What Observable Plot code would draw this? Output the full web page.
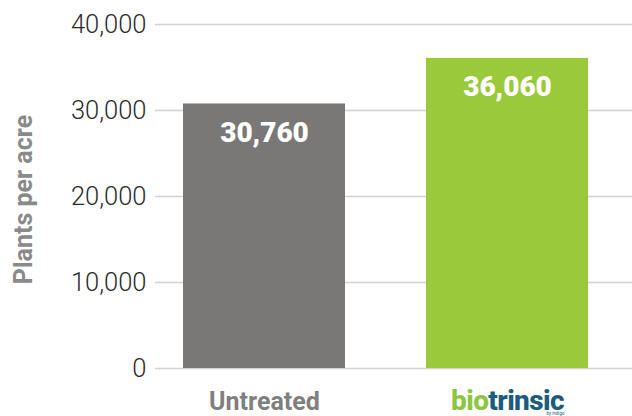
<!DOCTYPE html>
<html><head><meta charset="utf-8">
<script src="https://cdn.jsdelivr.net/npm/d3@7"></script>
<script src="https://cdn.jsdelivr.net/npm/@observablehq/plot@0.6"></script>
<style>body{margin:0;background:#fff}</style>
</head><body><div id="chart"></div>
<script>
const categories = ["Untreated", "biotrinsic"];
const values = [30760, 36060];
const yTicks = [0, 10000, 20000, 30000, 40000];
const barColors = ["#7a7876", "#9aca3c"];
const yTitle = "Plants per acre";

const data = categories.map((c, i) => ({category: c, value: values[i]}));
const fmt = d3.format(",");

const chart = Plot.plot({
  width: 632, height: 416,
  marginTop: 24, marginBottom: 48, marginLeft: 155, marginRight: 0,
  x: {domain: categories, range: [155, 616], paddingInner: 1/3, paddingOuter: 0.115, label: null},
  y: {domain: [0, 40000], label: null},
  color: {domain: categories, range: barColors},
  style: {fontFamily: "Roboto, sans-serif", background: "#fff", overflow: "visible"},
  marks: [
    Plot.ruleY(yTicks, {stroke: "#d2d2d2", strokeWidth: 1.6}),
    Plot.barY(data, {x: "category", y: "value", fill: "category"}),
    Plot.text(data, {x: "category", y: "value", text: d => fmt(d.value), dy: 29, fill: "white", fontSize: 28, fontWeight: 900}),
    Plot.axisY({ticks: yTicks, tickSize: 0, tickPadding: 9, tickFormat: fmt, fontSize: 25.5, fontWeight: 300, fill: "#2b2b2b", label: null}),
    Plot.axisX({tickSize: 0, tickPadding: 24, fontSize: 25, fontWeight: 700, fill: "#7f7f7f", label: null}),
    Plot.text([yTitle], {frameAnchor: "left", textAnchor: "middle", rotate: -90, dx: -132, dy: 3, fontSize: 25, fontWeight: 700, fill: "#8a8a8a"}),
    Plot.text(["by indigo"], {x: () => "biotrinsic", frameAnchor: "bottom", dx: 48, dy: 46, fontSize: 4.5, fill: "#1a5b7e"})
  ]
});

// two-colour brand label
d3.select(chart).selectAll("text").each(function() {
  if (this.textContent === "biotrinsic" && this.childNodes.length === 1) {
    const t = d3.select(this);
    t.text("");
    t.append("tspan").attr("fill", "#8dc63f").attr("font-size", 28).attr("font-weight", 800).attr("letter-spacing", -0.6).text("bio");
    t.append("tspan").attr("fill", "#1a5b7e").attr("font-size", 28).attr("font-weight", 800).attr("letter-spacing", -0.6).text("trinsic");
  }
});

document.getElementById("chart").appendChild(chart);
</script>
</body></html>
